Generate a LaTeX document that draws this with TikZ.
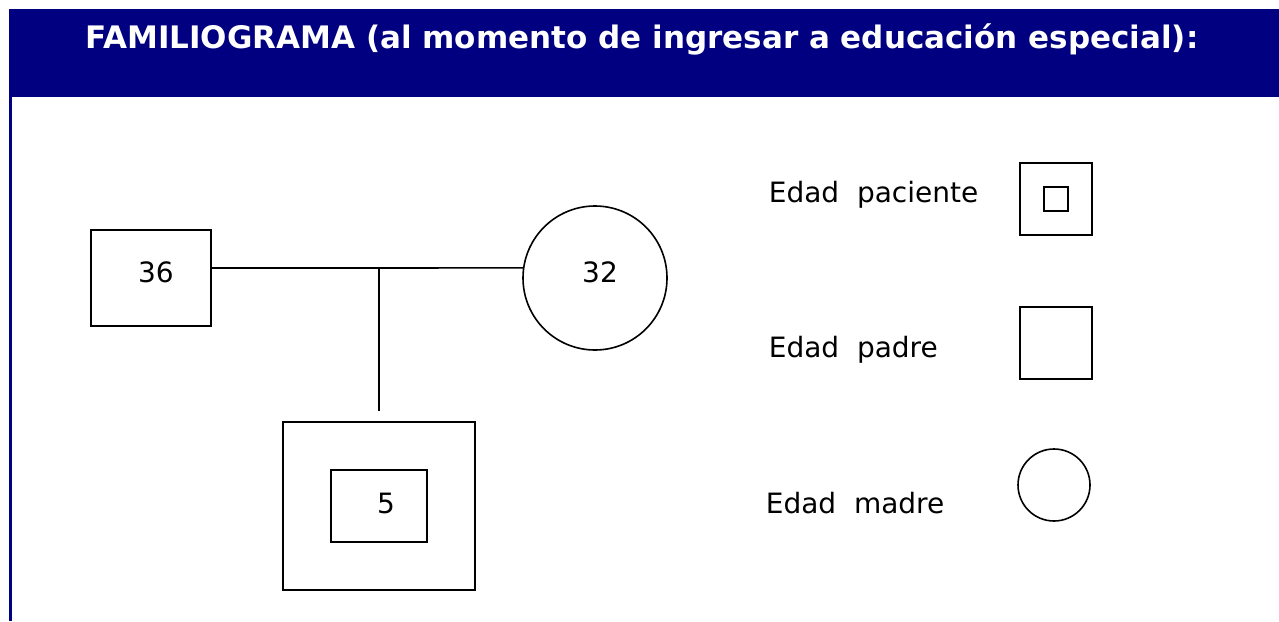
\documentclass[tikz,border=0pt]{standalone}
\usepackage{fontspec}
\setmainfont{DejaVu Sans}
\usetikzlibrary{positioning}
\definecolor{azul}{RGB}{0,0,128}

\begin{document}
\begin{tikzpicture}[x=1pt,y=-1pt,line width=1.6pt,
    font=\fontsize{28}{30}\selectfont,
    varon/.style={draw,rectangle,inner sep=0pt},
    mujer/.style={draw,circle,inner sep=0pt},
    edadtxt/.style={label={[xshift=5pt,yshift=6pt]center:#1}},
    rotulo/.style={anchor=west,inner sep=0pt}]
  \useasboundingbox (0,0) rectangle (1279,621);
  % encabezado
  \fill[azul] (9,9) rectangle (1279,97);
  \draw[azul,line width=3pt] (10,97) -- (10,621);
  \node[anchor=base,text=white,font=\fontsize{31}{34}\selectfont\bfseries] (titulo) at (642,48) {FAMILIOGRAMA (al momento de ingresar a educación especial):};

  % familia
  \node[varon,minimum width=120,minimum height=96,edadtxt=36] (padre) at (151,278) {};
  \node[mujer,minimum size=144,edadtxt=32] (madre) at (595,278) {};
  \node[varon,minimum width=192,minimum height=168] (paciente) at (379,506) {};
  \node[varon,minimum width=96,minimum height=72,label={[xshift=7pt,yshift=3pt]center:5}] (edad) at (379,506) {};
  \coordinate (union) at (379,268);
  \coordinate (bajada) at (379,411);
  \draw (padre.east |- union) -- (union) -- (madre.172);
  \draw (union) -- (bajada);

  % leyenda
  \node[varon,minimum size=72] (simPaciente) at (1056,199) {};
  \node[varon,minimum size=24] (simInterior) at (simPaciente) {};
  \node[varon,minimum size=72] (simPadre) at (1056,343) {};
  \node[mujer,minimum size=72] (simMadre) at (1054,485) {};
  \node[rotulo] (txtPaciente) at (768,195) {Edad~~paciente};
  \node[rotulo] (txtPadre) at (768,350) {Edad~~padre};
  \node[rotulo] (txtMadre) at (765,503) {Edad~~madre};
\end{tikzpicture}
\end{document}
